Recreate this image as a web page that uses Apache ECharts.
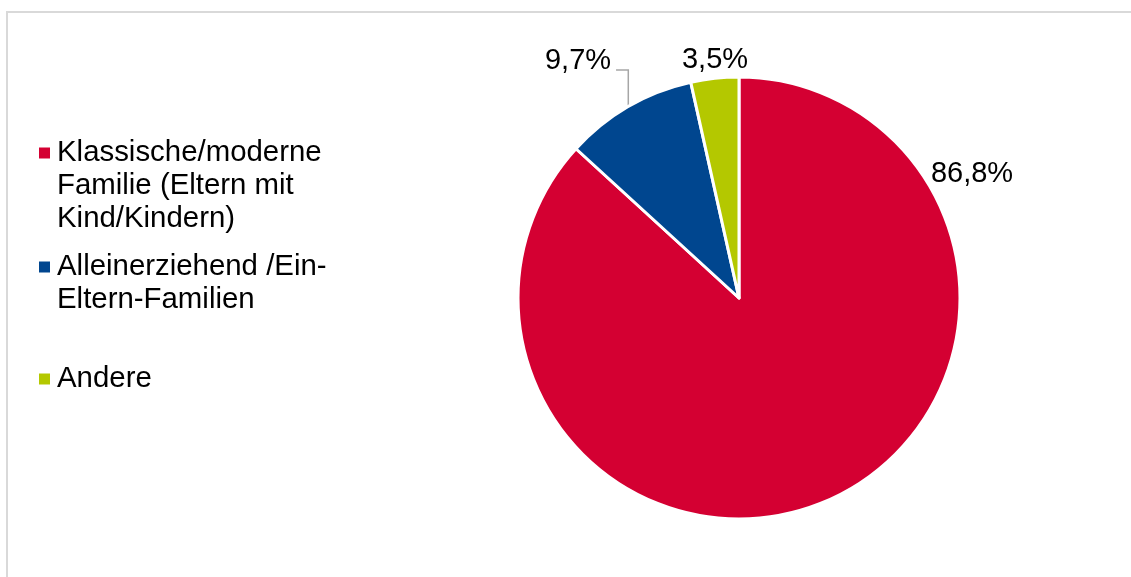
<!DOCTYPE html>
<html>
<head>
<meta charset="utf-8">
<script src="https://cdn.jsdelivr.net/npm/echarts@6/dist/echarts.min.js"></script>
<style>
  html, body { margin: 0; padding: 0; background: #ffffff; overflow: hidden; }
  #frame { position: absolute; left: 6px; top: 11px; width: 1400px; height: 900px; border: 2px solid #d9d9d9; box-sizing: border-box; }
  #chart { position: absolute; left: 0; top: 0; width: 1131px; height: 577px; }
</style>
</head>
<body>
<div id="frame"></div>
<div id="chart"></div>
<script>
// ---- data ----
const categories = [
  'Klassische/moderne Familie (Eltern mit Kind/Kindern)',
  'Alleinerziehend /Ein-Eltern-Familien',
  'Andere'
];
const legendLines = [
  ['Klassische/moderne', 'Familie (Eltern mit', 'Kind/Kindern)'],
  ['Alleinerziehend /Ein-', 'Eltern-Familien'],
  ['Andere']
];
const values = [86.8, 9.7, 3.5];
const valueLabels = ['86,8%', '9,7%', '3,5%'];

// ---- styles ----
const colors = ['#d40032', '#00468f', '#b4c800'];
const FONT = '"Liberation Sans", Arial, sans-serif';
const FS = 29;
const LEG_FS = 29.4;
const LINE_H = 33;
const ICON = 13;
const legendIconCenters = [153, 267, 379];
const labelCenters = [[972, 174], [578, 61], [715, 60]];

const legends = categories.map(function (name, i) {
  const n = legendLines[i].length;
  const boxH = (2 * n - 1) * LINE_H;
  const top = legendIconCenters[i] - boxH / 2;
  // blank lines before the text so the first text line sits on the icon
  const blank = new Array(n - 1).fill(' ');
  const text = blank.concat(legendLines[i]).join('\n');
  return {
    data: [name],
    orient: 'vertical',
    left: 37,
    top: top,
    padding: 0,
    itemWidth: ICON,
    itemHeight: ICON,
    icon: 'rect',
    selectedMode: false,
    formatter: function () { return text; },
    textStyle: {
      fontFamily: FONT,
      fontSize: LEG_FS,
      color: '#000',
      lineHeight: LINE_H,
      padding: [0, 0, 0, 1]
    }
  };
});

const chart = echarts.init(document.getElementById('chart'), null, { renderer: 'canvas' });
chart.setOption({
  backgroundColor: 'transparent',
  animation: false,
  color: colors,
  legend: legends,
  series: [{
    type: 'pie',
    center: [739, 298],
    radius: 221,
    startAngle: 90,
    clockwise: true,
    avoidLabelOverlap: false,
    itemStyle: { borderColor: '#ffffff', borderWidth: 3 },
    label: {
      show: true,
      position: 'outside',
      fontFamily: FONT,
      fontSize: FS,
      color: '#000',
      formatter: function (p) { return valueLabels[p.dataIndex]; }
    },
    labelLine: {
      show: true,
      length: 20,
      length2: 10,
      lineStyle: { color: '#a6a6a6', width: 1.5 }
    },
    emphasis: { disabled: true },
    labelLayout: function (p) {
      const i = p.dataIndex;
      const c = labelCenters[i];
      const out = { x: c[0], y: c[1], align: 'center', verticalAlign: 'middle' };
      if (i === 1 && p.labelLinePoints) {
        const p0 = p.labelLinePoints[0];
        const rightX = c[0] + p.labelRect.width / 2 + 5;
        out.labelLinePoints = [[p0[0], p0[1]], [p0[0], c[1] + 9], [rightX, c[1] + 9]];
      }
      return out;
    },
    data: categories.map(function (name, i) {
      return {
        name: name,
        value: values[i],
        labelLine: { show: i === 1 }
      };
    })
  }]
});
</script>
</body>
</html>
